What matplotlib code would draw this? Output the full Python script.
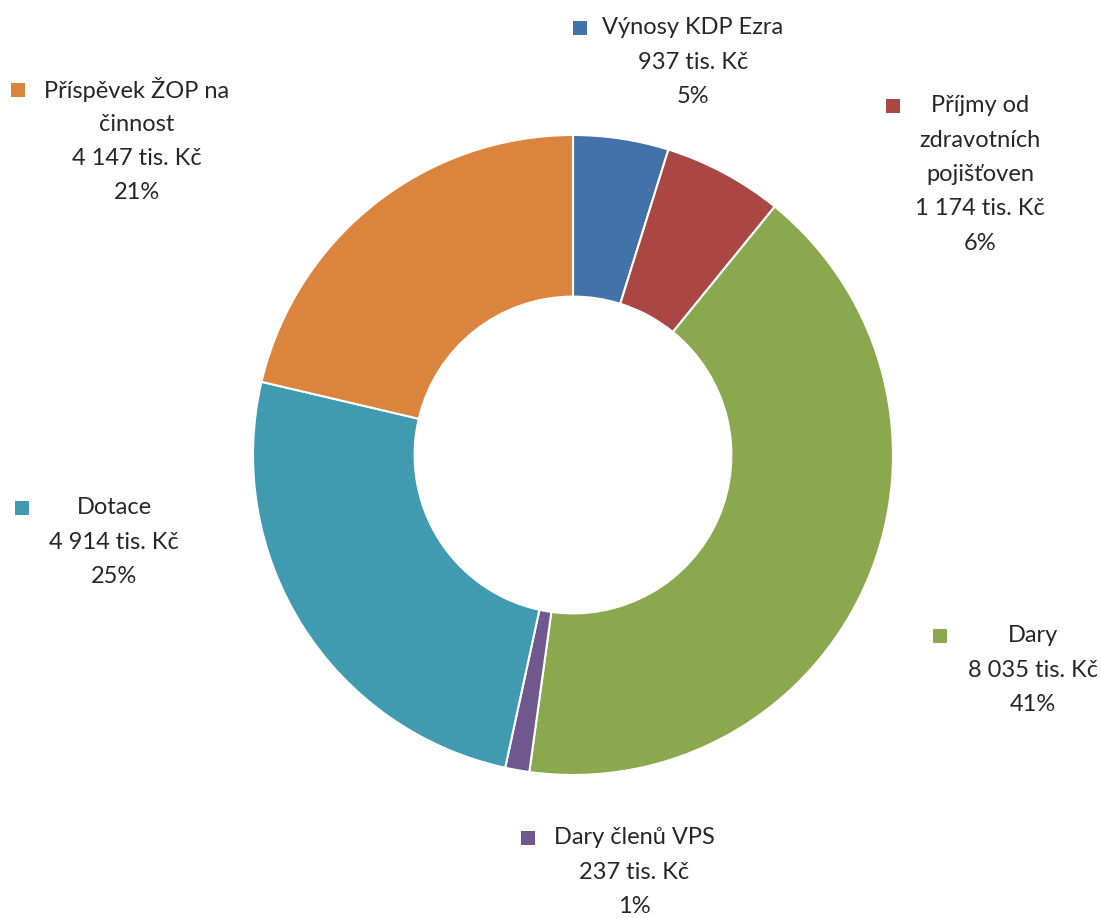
import matplotlib.pyplot as plt

# zdroje financovani (tis. Kc)
labels = ['Výnosy KDP Ezra', 'Příjmy od zdravotních pojišťoven', 'Dary',
          'Dary členů VPS', 'Dotace', 'Příspěvek ŽOP na činnost']
label_lines = ['Výnosy KDP Ezra', 'Příjmy od\nzdravotních\npojišťoven', 'Dary',
               'Dary členů VPS', 'Dotace', 'Příspěvek ŽOP na\nčinnost']
values = [937, 1174, 8035, 237, 4914, 4147]
colors = ['#4272A8', '#AA4644', '#8AA84E', '#70578E', '#409BB0', '#DB843D']

W, H = 1101, 918
fig = plt.figure(figsize=(W / 100, H / 100), dpi=100)
plt.rcParams['font.family'] = ['Lato', 'DejaVu Sans']

# donut centred at (573, 455) px, radius 320 px
cx, cy, r = 573, 455, 320
ax = fig.add_axes([(cx - r) / W, (H - cy - r) / H, 2 * r / W, 2 * r / H])
ax.pie(values, colors=colors, startangle=90, counterclock=False, radius=1,
       wedgeprops=dict(width=0.505, edgecolor='white', linewidth=1.5))
ax.set_xlim(-1, 1)
ax.set_ylim(-1, 1)
ax.set_aspect('equal')
ax.axis('off')

total = sum(values)

# label block centre x, first line y, key square x (pixels)
label_pos = [(693, 28, 580), (980, 106, 893), (1033, 636, 940),
             (634, 838, 528), (114, 508, 22), (137, 90, 18)]

txt_color = '#262626'
line_h = 34.3
for name, v, c, (tx, ty, kx) in zip(label_lines, values, colors, label_pos):
    pct = round(100 * v / total)
    vs = f'{v:,}'.replace(',', ' ')
    lines = name.split('\n') + [f'{vs} tis. Kč', f'{pct}%']
    for i, ln in enumerate(lines):
        fig.text(tx / W, 1 - (ty + i * line_h) / H, ln, ha='center', va='center',
                 fontsize=17, color=txt_color)
    fig.patches.append(plt.Rectangle(((kx - 7) / W, 1 - (ty + 7) / H), 14 / W, 14 / H,
                                     transform=fig.transFigure, facecolor=c,
                                     edgecolor='none'))

fig.savefig('out.png', dpi=100)
